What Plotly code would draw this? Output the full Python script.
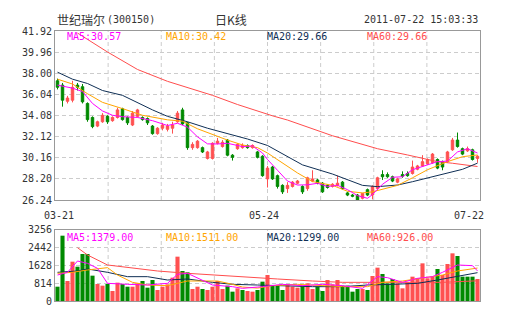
import plotly.graph_objects as go

# ---------------- data ----------------
candle_idx = list(range(85))
opens = [37.3, 36.9, 35.4, 35.5, 36.9, 36.75, 35.2, 33.9, 33.1, 33.5,
         34.0, 33.6, 33.9, 34.7, 33.9, 33.2, 34.0, 33.9, 33.8, 33.1,
         32.4, 32.9, 32.8, 32.9, 33.5, 34.6, 33.4, 31.1, 31.1, 31.1,
         30.1, 30.1, 31.5, 31.2, 31.8, 30.4, 31.0, 31.1, 31.3, 31.1,
         30.7, 30.3, 28.2, 29.3, 28.5, 27.6, 27.3, 27.5, 27.8, 27.5,
         27.3, 28.0, 28.1, 27.8, 27.6, 27.5, 27.6, 27.9, 26.9, 26.7,
         26.7, 26.4, 27.2, 26.7, 27.3, 28.6, 28.6, 28.4, 27.9, 28.6,
         28.7, 28.7, 29.1, 29.4, 29.6, 29.7, 30.0, 29.8, 29.8, 30.9,
         31.8, 31.0, 30.8, 30.9, 30.1]
highs = [37.5, 37.1, 35.9, 37.3, 37.1, 37.0, 35.3, 34.0, 33.6, 34.3,
         34.1, 34.0, 34.8, 34.8, 34.0, 34.5, 34.7, 34.0, 33.9, 33.2,
         33.0, 33.4, 33.3, 33.5, 34.5, 34.8, 33.5, 31.6, 31.8, 31.2,
         30.8, 31.6, 32.0, 31.8, 31.9, 30.5, 31.5, 31.5, 31.4, 31.4,
         30.8, 30.4, 29.4, 29.4, 28.6, 27.7, 27.9, 28.0, 28.1, 27.6,
         28.4, 29.0, 28.2, 27.9, 27.7, 27.8, 28.5, 28.0, 27.0, 26.8,
         26.8, 26.9, 27.3, 27.6, 28.4, 29.0, 28.8, 28.5, 28.3, 28.9,
         28.9, 29.9, 29.5, 30.4, 30.1, 30.6, 30.1, 29.9, 30.8, 32.0,
         32.5, 31.1, 31.2, 31.0, 30.4]
lows = [36.5, 34.9, 35.2, 35.3, 36.4, 35.2, 33.5, 32.9, 33.0, 33.4,
        33.3, 33.5, 33.8, 33.6, 33.2, 33.1, 33.9, 33.6, 33.2, 32.3,
        32.3, 32.7, 32.6, 32.4, 33.4, 33.2, 30.9, 30.9, 31.0, 30.6,
        30.0, 30.0, 31.4, 31.1, 30.3, 29.9, 30.9, 31.0, 31.0, 31.0,
        30.1, 28.4, 27.4, 28.1, 27.3, 26.8, 26.9, 27.4, 27.7, 26.8,
        27.1, 27.9, 27.7, 26.9, 27.3, 27.4, 27.5, 27.2, 26.6, 26.5,
        26.2, 26.3, 26.6, 26.3, 27.2, 28.1, 28.3, 27.9, 27.8, 28.3,
        28.4, 28.6, 29.0, 29.3, 29.5, 29.6, 29.1, 29.0, 29.7, 30.8,
        31.1, 30.4, 30.7, 29.9, 29.7]
closes = [36.7, 35.5, 35.7, 36.7, 36.7, 35.35, 33.7, 33.05, 33.5, 34.1,
          33.5, 33.9, 34.6, 33.7, 33.4, 34.3, 34.6, 33.7, 33.4, 32.4,
          32.9, 33.2, 33.1, 33.2, 34.3, 33.3, 31.1, 31.4, 31.7, 30.7,
          30.7, 31.5, 31.7, 31.6, 30.4, 30.2, 31.4, 31.3, 31.1, 31.3,
          30.2, 28.5, 29.2, 28.2, 27.5, 27.0, 27.6, 27.9, 28.0, 27.0,
          28.3, 28.2, 27.8, 27.0, 27.4, 27.7, 27.8, 27.3, 26.7, 26.6,
          26.25, 26.85, 26.7, 27.5, 28.3, 28.4, 28.4, 28.0, 28.2, 28.45,
          28.5, 29.3, 29.4, 29.8, 30.0, 30.5, 29.2, 29.3, 30.7, 31.8,
          31.2, 30.5, 31.0, 30.0, 30.3]

volumes = [656, 2995, 917, 1803, 1573, 2155, 2155, 1162, 780, 703,
           780, 459, 841, 780, 656, 656, 810, 917, 611, 963,
           504, 656, 764, 1070, 2033, 1376, 1315, 550, 656, 550,
           504, 656, 917, 550, 703, 428, 581, 504, 459, 428,
           504, 887, 1192, 703, 703, 504, 764, 656, 611, 703,
           810, 550, 656, 459, 963, 764, 963, 703, 703, 428,
           550, 550, 504, 1146, 1529, 1238, 810, 1009, 810, 581,
           856, 1116, 1040, 1727, 1040, 1116, 1468, 1192, 1697, 2186,
           2063, 1116, 1116, 1116, 1009]
vol_up = [0, 0, 1, 1, 0, 0, 0, 0, 1, 1,
          0, 1, 1, 0, 0, 1, 1, 0, 0, 0,
          1, 1, 1, 1, 1, 0, 0, 1, 1, 0,
          1, 1, 1, 1, 0, 0, 1, 0, 1, 1,
          0, 0, 1, 0, 0, 0, 1, 1, 1, 0,
          1, 1, 0, 0, 1, 1, 1, 0, 0, 0,
          0, 1, 0, 1, 1, 0, 0, 0, 1, 1,
          1, 1, 1, 1, 1, 1, 0, 1, 1, 1,
          0, 0, 0, 0, 1]

# price moving averages (index, value)
ma5_idx = [0, 3, 5, 7, 9, 11, 13, 16, 19, 22, 24, 26, 28, 30, 32, 34, 37, 39, 41, 42,
           44, 46, 48, 50, 52, 54, 56, 58, 60, 62, 63, 65, 67, 69, 71, 73, 76, 78, 80, 82, 84]
ma5_val = [36.9, 36.62, 36.3, 35.2, 34.5, 34.1, 33.97, 33.9, 33.6, 33.15, 33.36, 33.0, 32.1,
           31.45, 31.44, 31.5, 31.2, 31.25, 30.6, 30.0, 29.0, 28.0, 27.63, 27.65, 27.79, 27.5,
           27.6, 27.2, 26.65, 26.4, 26.75, 27.7, 28.35, 28.4, 29.05, 29.35, 29.8, 29.85, 30.7,
           31.0, 30.6]
ma10_idx = [0, 3, 6, 9, 13, 17, 22, 25, 28, 31, 34, 37, 40, 42, 45, 48, 51, 55, 58, 61,
            63, 68, 71, 74, 78, 81, 84]
ma10_val = [37.45, 37.0, 36.1, 35.3, 34.72, 34.1, 33.68, 33.55, 32.85, 32.3, 31.8, 31.35,
            31.1, 30.6, 29.65, 28.75, 27.95, 27.6, 27.05, 26.9, 27.0, 27.6, 28.3, 29.05, 29.8,
            30.26, 30.42]
ma20_idx = [0, 3, 6, 9, 13, 16, 19, 22, 26, 30, 34, 38, 42, 45, 49, 55, 58, 61, 64, 68,
            71, 75, 78, 81, 84]
ma20_val = [38.1, 37.45, 37.05, 36.4, 35.95, 35.25, 34.6, 34.0, 33.5, 32.9, 32.4, 31.9,
            31.3, 30.5, 29.5, 28.65, 28.1, 27.6, 27.48, 27.63, 27.94, 28.4, 28.72, 29.09, 29.66]
ma60_idx = [4, 10, 16, 22, 31, 36, 43, 46, 55, 64, 70, 76, 79, 82, 84]
ma60_val = [41.73, 39.97, 38.35, 37.25, 35.95, 35.1, 34.05, 33.66, 32.2, 31.0, 30.42,
            29.8, 29.65, 29.45, 29.35]

# volume moving averages (index, value)
vma5_idx = [0, 2, 4, 6, 8, 10, 14, 18, 22, 24, 26, 28, 31, 35, 37, 41, 45, 49, 53, 57,
            61, 64, 66, 69, 72, 75, 77, 80, 83, 84]
vma5_val = [1192, 1315, 1834, 1727, 1498, 810, 764, 733, 810, 1223, 1269, 1040, 733, 657,
            581, 657, 764, 703, 764, 703, 581, 1116, 1070, 856, 1040, 1116, 1315, 1651, 1620,
            1379]
vma10_idx = [0, 3, 6, 10, 12, 15, 18, 22, 26, 28, 32, 35, 37, 40, 43, 48, 52, 57, 62, 65,
             69, 73, 77, 80, 84]
vma10_val = [1269, 1315, 1422, 1529, 1192, 856, 733, 703, 917, 917, 917, 764, 640, 590,
             703, 764, 703, 657, 657, 856, 917, 1070, 1192, 1376, 1511]
vma20_idx = [0, 4, 6, 10, 14, 18, 22, 26, 31, 35, 40, 44, 51, 57, 62, 67, 72, 76, 80, 84]
vma20_val = [1315, 1376, 1468, 1315, 1116, 1116, 963, 1009, 856, 764, 733, 703, 657, 657,
             733, 764, 810, 963, 1116, 1299]
vma60_idx = [4, 6, 10, 15, 20, 26, 31, 35, 40, 44, 51, 57, 64, 71, 77, 84]
vma60_val = [2445, 2110, 1651, 1529, 1376, 1269, 1192, 1116, 1040, 1009, 917, 856, 856,
             856, 856, 926]

price_ticks = [26.24, 28.20, 30.16, 32.12, 34.08, 36.04, 38.00, 39.96, 41.92]
vol_ticks = [0, 814, 1628, 2442, 3256]
date_labels = ["03-21", "05-24", "07-22"]
title_name = "世纪瑞尔"
title_code = "(300150)"
title_kind = "日K线"
title_time = "2011-07-22 15:03:33"
ma_price_text = ["MA5:30.57", "MA10:30.42", "MA20:29.66", "MA60:29.66"]
ma_vol_text = ["MA5:1379.00", "MA10:1511.00", "MA20:1299.00", "MA60:926.00"]

# ---------------- styling ----------------
RED = "#ff5050"
GREEN = "#008a00"
C_MA5 = "#ff00ff"
C_MA10 = "#ffa500"
C_MA20 = "#0f2f55"
C_MA60 = "#ff4d4d"
MA_COLORS = [C_MA5, C_MA10, C_MA20, C_MA60]
MONO = "DejaVu Sans Mono, Noto Sans CJK SC"
CJK = "Noto Sans CJK SC"
FRAME = "#999999"
GRID = "#cccccc"
TXT = "#333333"

fig = go.Figure()

fig.add_trace(go.Candlestick(
    x=candle_idx, open=opens, high=highs, low=lows, close=closes,
    increasing=dict(line=dict(color=RED, width=1), fillcolor=RED),
    decreasing=dict(line=dict(color=GREEN, width=1), fillcolor=GREEN),
    whiskerwidth=0, xaxis="x", yaxis="y", hoverinfo="skip"))

for idx, val, col in [(ma60_idx, ma60_val, C_MA60), (ma20_idx, ma20_val, C_MA20),
                      (ma10_idx, ma10_val, C_MA10), (ma5_idx, ma5_val, C_MA5)]:
    fig.add_trace(go.Scatter(x=idx, y=val, mode="lines", line=dict(color=col, width=1),
                             xaxis="x", yaxis="y", hoverinfo="skip"))

fig.add_trace(go.Bar(x=candle_idx, y=volumes,
                     marker=dict(color=[RED if u else GREEN for u in vol_up], line=dict(width=0)),
                     xaxis="x2", yaxis="y2", hoverinfo="skip"))

for idx, val, col in [(vma60_idx, vma60_val, C_MA60), (vma20_idx, vma20_val, C_MA20),
                      (vma10_idx, vma10_val, C_MA10), (vma5_idx, vma5_val, C_MA5)]:
    fig.add_trace(go.Scatter(x=idx, y=val, mode="lines", line=dict(color=col, width=1),
                             xaxis="x2", yaxis="y2", hoverinfo="skip"))

axis_common = dict(showline=True, mirror=True, linecolor=FRAME, linewidth=1, zeroline=False)

shapes = []
for k in range(1, 8):
    for yref in ["y domain", "y2 domain"]:
        shapes.append(dict(type="line", xref="paper", yref=yref, x0=k / 8, x1=k / 8, y0=0, y1=1,
                           line=dict(color=GRID, width=1, dash="4px,3px"), layer="below"))

annotations = []
annotations.append(dict(text=title_name, xref="paper", yref="paper", x=0, y=1.041,
                        xanchor="left", yanchor="middle", showarrow=False,
                        font=dict(family=CJK, size=12, color=TXT)))
annotations.append(dict(text=title_code, xref="paper", yref="paper", x=0.1176, y=1.041,
                        xanchor="left", yanchor="middle", showarrow=False,
                        font=dict(family=MONO, size=10, color=TXT)))
annotations.append(dict(text=title_kind, xref="paper", yref="paper", x=0.414, y=1.041,
                        xanchor="center", yanchor="middle", showarrow=False,
                        font=dict(family=CJK, size=12, color=TXT)))
annotations.append(dict(text=title_time, xref="paper", yref="paper", x=1.0, y=1.041,
                        xanchor="right", yanchor="middle", showarrow=False,
                        font=dict(family=MONO, size=10, color=TXT)))
leg_x = [0.0235, 0.2565, 0.494, 0.729]
for t, c, xx in zip(ma_price_text, MA_COLORS, leg_x):
    annotations.append(dict(text=t, xref="paper", yref="paper", x=xx, y=0.980,
                            xanchor="left", yanchor="middle", showarrow=False,
                            font=dict(family=MONO, size=10, color=c)))
for t, c, xx in zip(ma_vol_text, MA_COLORS, leg_x):
    annotations.append(dict(text=t, xref="paper", yref="paper", x=xx, y=0.237,
                            xanchor="left", yanchor="middle", showarrow=False,
                            font=dict(family=MONO, size=10, color=c)))
date_x = [0.0094, 0.492, 0.975]
for t, xx in zip(date_labels, date_x):
    annotations.append(dict(text=t, xref="paper", yref="paper", x=xx, y=0.3185,
                            xanchor="center", yanchor="middle", showarrow=False,
                            font=dict(family=MONO, size=10, color=TXT)))

fig.update_layout(
    width=505, height=330,
    margin=dict(l=55, r=25, t=31, b=29, pad=0),
    paper_bgcolor="white", plot_bgcolor="white",
    showlegend=False, bargap=0.18,
    xaxis=dict(domain=[0, 1], range=[-0.5, 84.5], anchor="y", showticklabels=False,
               showgrid=False, rangeslider=dict(visible=False), ticks="", **axis_common),
    yaxis=dict(domain=[0.374, 1], range=[26.24, 41.92], anchor="x",
               tickvals=price_ticks, ticktext=["%.2f" % v for v in price_ticks],
               showgrid=True, gridcolor=GRID, griddash="4px,3px", gridwidth=1, ticks="",
               tickfont=dict(family=MONO, size=10, color=TXT), **axis_common),
    xaxis2=dict(domain=[0, 1], range=[-0.5, 84.5], anchor="y2", showticklabels=False,
                showgrid=False, ticks="", **axis_common),
    yaxis2=dict(domain=[0, 0.263], range=[0, 3256], anchor="x2",
                tickvals=vol_ticks, ticktext=[str(v) for v in vol_ticks],
                showgrid=True, gridcolor=GRID, griddash="4px,3px", gridwidth=1, ticks="",
                tickfont=dict(family=MONO, size=10, color=TXT), **axis_common),
    shapes=shapes, annotations=annotations,
)

fig.write_html("out.html")
